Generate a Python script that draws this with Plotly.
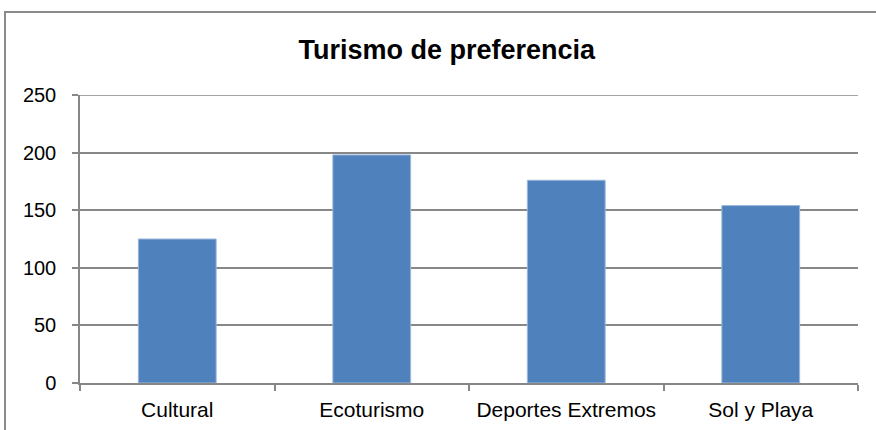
import plotly.graph_objects as go

# data
categorias = ['Cultural', 'Ecoturismo', 'Deportes Extremos', 'Sol y Playa']
valores = [125, 198, 176, 154]
y_ticks = [0, 50, 100, 150, 200, 250]

gris = '#878787'
azul = '#4F81BD'
fuente = 'Liberation Sans, Arial, sans-serif'

fig = go.Figure()
fig.add_trace(go.Bar(
    x=categorias, y=valores,
    width=0.4,
    marker=dict(color=azul, line=dict(color='#9bb7dc', width=1)),
))

fig.update_layout(
    width=876, height=430,
    margin=dict(l=80, r=18, t=95, b=47, autoexpand=False),
    paper_bgcolor='white', plot_bgcolor='white',
    showlegend=False,
    title=dict(text='<b>Turismo de preferencia</b>', x=0.51, xref='container', xanchor='center',
               y=0.885, yref='container', yanchor='middle',
               font=dict(family=fuente, size=27, color='black')),
    font=dict(family=fuente, size=20, color='black'),
)

fig.update_xaxes(
    showline=True, linecolor=gris, linewidth=1.5,
    ticks='outside', tickson='boundaries', ticklen=6, tickcolor=gris, tickwidth=1.5,
    showgrid=False, ticklabelstandoff=7, automargin=False,
    tickfont=dict(size=21),
)
fig.update_yaxes(
    range=[0, 250], tickvals=y_ticks,
    showline=True, linecolor=gris, linewidth=1.5,
    ticks='outside', ticklen=6, tickcolor=gris, tickwidth=1.5,
    showgrid=True, gridcolor=gris, gridwidth=1.5,
    zeroline=False, ticklabelstandoff=12, automargin=False,
)

# top gridline (plotly drops the one on the plot edge)
fig.add_shape(type='line', xref='paper', yref='y', x0=0, x1=1, y0=y_ticks[-1], y1=y_ticks[-1],
              line=dict(color=gris, width=1.5))

# outer frame of the chart (left and top edges visible)
fig.add_shape(type='path', xref='paper', yref='paper',
              path='M -0.0964 -0.3 L -0.0964 1.288 L 1.05 1.288',
              line=dict(color='#8a8a8a', width=2))

fig.write_html('out.html', config={'displayModeBar': False},
               post_script="document.body.style.margin='0';")
